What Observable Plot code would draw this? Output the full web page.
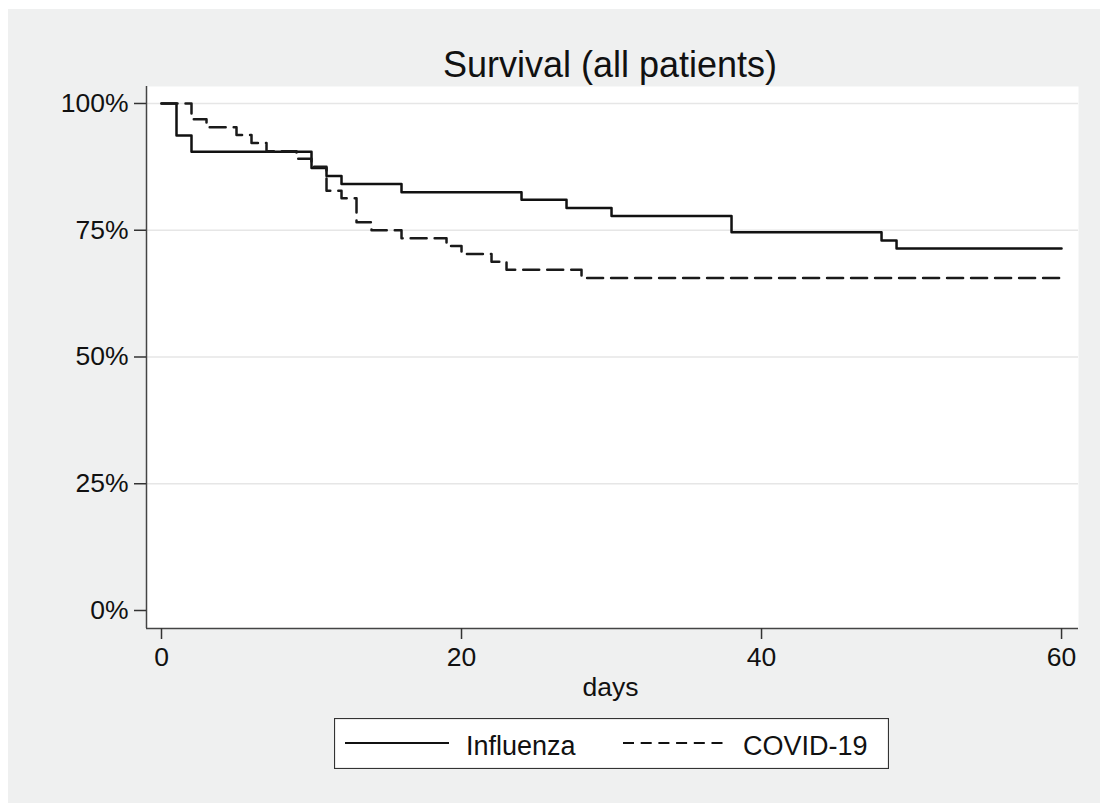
<!DOCTYPE html>
<html>
<head>
<meta charset="utf-8">
<script src="https://cdn.jsdelivr.net/npm/d3@7"></script>
<script src="https://cdn.jsdelivr.net/npm/@observablehq/plot@0.6"></script>
<style>
  html, body { margin: 0; padding: 0; background: #ffffff; }
  body { position: relative; width: 1100px; height: 803px; overflow: hidden; font-family: "Liberation Sans", Arial, Helvetica, sans-serif; }
  #bg { position: absolute; left: 8px; top: 9px; width: 1092px; height: 794px; background: #eff0f0; }
  #title { position: absolute; left: 310px; width: 600px; top: 47px; font-size: 36px; line-height: 36px; text-align: center; color: #111; }
  #chart { position: absolute; left: 0; top: 86px; }
  #legend { position: absolute; left: 334px; top: 718px; width: 555px; height: 51px; }
</style>
</head>
<body>
<div id="bg"></div>
<div id="title"></div>
<div id="chart"></div>
<div id="legend"></div>
<script>
// ---- data ----
const titleText = "Survival (all patients)";
const xLabel = "days";
const seriesNames = ["Influenza", "COVID-19"];

const influenzaDays = [0, 1, 2, 10, 11, 12, 16, 24, 27, 30, 38, 48, 49, 60];
const influenzaSurv = [1.000, 0.937, 0.905, 0.873, 0.857, 0.841, 0.825, 0.810, 0.794, 0.778, 0.746, 0.730, 0.714, 0.714];

const covidDays = [0, 2, 3, 5, 6, 7, 9, 10, 11, 12, 13, 14, 16, 19, 20, 22, 23, 28, 60];
const covidSurv = [1.000, 0.969, 0.953, 0.938, 0.922, 0.906, 0.891, 0.875, 0.828, 0.813, 0.766, 0.750, 0.734, 0.719, 0.703, 0.688, 0.672, 0.656, 0.656];

const xTicks = [0, 20, 40, 60];
const yTicks = [0, 0.25, 0.5, 0.75, 1];
const yGrid = [0.25, 0.5, 0.75, 1];

// ---- build tables ----
const influenza = influenzaDays.map((d, i) => ({day: d, surv: influenzaSurv[i]}));
const covid = covidDays.map((d, i) => ({day: d, surv: covidSurv[i]}));

const xDomain = [-1, 61.13];
const yDomain = [-0.0355, 1.0335];
const font = "'Liberation Sans', Arial, Helvetica, sans-serif";

document.getElementById("title").textContent = titleText;

const chart = Plot.plot({
  width: 1100,
  height: 624,
  marginLeft: 146,
  marginRight: 22,
  marginTop: 0,
  marginBottom: 82,
  x: {domain: xDomain},
  y: {domain: yDomain},
  style: {background: "transparent", fontFamily: font, fontSize: "26.5px", color: "#111", overflow: "visible"},
  marks: [
    Plot.frame({fill: "white", stroke: "none"}),
    Plot.ruleY(yGrid, {stroke: "#e6e6e6", strokeWidth: 1.5}),
    Plot.line(influenza, {x: "day", y: "surv", curve: "step-after", stroke: "#111", strokeWidth: 2.5}),
    Plot.line(covid, {x: "day", y: "surv", curve: "step-after", stroke: "#1a1a1a", strokeWidth: 2.5, strokeDasharray: "16,8"}),
    Plot.ruleX([xDomain[0]], {stroke: "#444", strokeWidth: 1.5}),
    Plot.ruleY([yDomain[0]], {stroke: "#444", strokeWidth: 1.5}),
    Plot.axisX({ticks: xTicks, tickSize: 11, tickPadding: 8, label: null, stroke: "#333", strokeWidth: 1.5}),
    Plot.axisY({ticks: yTicks, tickFormat: d => `${Math.round(d * 100)}%`, tickSize: 12, tickPadding: 6, label: null, stroke: "#333", strokeWidth: 1.5}),
    Plot.text([xLabel], {text: d => d, frameAnchor: "bottom", dy: 67, dx: -2, fontSize: 26.5, fill: "#111"})
  ]
});
document.getElementById("chart").appendChild(chart);

// ---- legend ----
const legendDash = [null, "11,6.7"];
const lg = d3.select("#legend").append("svg")
  .attr("width", 555).attr("height", 51)
  .style("font-family", font).style("display", "block");
lg.append("rect").attr("x", 0.5).attr("y", 0.5).attr("width", 554).attr("height", 50)
  .attr("fill", "white").attr("stroke", "#333").attr("stroke-width", 1.2);
const lineX = [11, 289];
const textX = [132, 409];
seriesNames.forEach((name, i) => {
  lg.append("line").attr("x1", lineX[i]).attr("x2", lineX[i] + 104).attr("y1", 25).attr("y2", 25)
    .attr("stroke", "#111").attr("stroke-width", 2).attr("stroke-dasharray", legendDash[i]);
  lg.append("text").attr("x", textX[i]).attr("y", 37).attr("font-size", 27).attr("fill", "#111").text(name);
});
</script>
</body>
</html>
